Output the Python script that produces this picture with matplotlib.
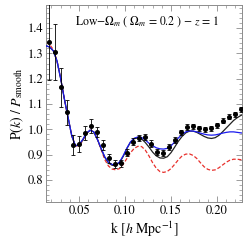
import matplotlib
matplotlib.use("Agg")
import matplotlib.pyplot as plt
from matplotlib.ticker import MultipleLocator

# measured points
k_data = [0.0178, 0.0243, 0.0308, 0.0373, 0.0438, 0.0503, 0.0568, 0.0633,
          0.0698, 0.0763, 0.0828, 0.0893, 0.0958, 0.1023, 0.1088, 0.1153,
          0.1218, 0.1283, 0.1348, 0.1413, 0.1478, 0.1543, 0.1608, 0.1673,
          0.1738, 0.1803, 0.1868, 0.1933, 0.1998, 0.2063, 0.2128, 0.2193,
          0.2258]
ratio_data = [1.345, 1.305, 1.166, 1.067, 0.938, 0.942, 0.984, 1.013,
              0.990, 0.938, 0.885, 0.863, 0.866, 0.908, 0.951, 0.966,
              0.968, 0.944, 0.911, 0.907, 0.931, 0.957, 0.988, 1.010,
              1.013, 1.004, 1.000, 1.004, 1.017, 1.034, 1.050, 1.060,
              1.079]
ratio_err = [0.150, 0.110, 0.077, 0.050, 0.040, 0.033, 0.028, 0.028,
             0.020, 0.018, 0.016, 0.015, 0.014, 0.013, 0.013, 0.012,
             0.012, 0.012, 0.012, 0.011, 0.011, 0.011, 0.011, 0.011,
             0.010, 0.010, 0.010, 0.010, 0.010, 0.010, 0.010, 0.010,
             0.010]

# model curves
k_model = [0.014, 0.018, 0.022, 0.026, 0.030, 0.034, 0.038, 0.042, 0.046,
           0.050, 0.054, 0.058, 0.062, 0.066, 0.070, 0.074, 0.078, 0.082,
           0.086, 0.090, 0.094, 0.098, 0.102, 0.106, 0.110, 0.114, 0.118,
           0.122, 0.126, 0.130, 0.134, 0.138, 0.142, 0.146, 0.150, 0.154,
           0.158, 0.162, 0.166, 0.170, 0.174, 0.178, 0.182, 0.186, 0.190,
           0.194, 0.198, 0.202, 0.206, 0.210, 0.214, 0.218, 0.222, 0.226,
           0.228]
black_model = [1.330, 1.325, 1.310, 1.270, 1.200, 1.120, 1.048, 0.975, 0.935,
               0.938, 0.958, 0.984, 0.996, 0.990, 0.960, 0.923, 0.889, 0.867,
               0.858, 0.858, 0.868, 0.893, 0.924, 0.950, 0.963, 0.966, 0.962,
               0.948, 0.930, 0.910, 0.895, 0.887, 0.886, 0.892, 0.908, 0.930,
               0.953, 0.972, 0.986, 0.993, 0.993, 0.988, 0.980, 0.972, 0.966,
               0.964, 0.967, 0.976, 0.990, 1.005, 1.020, 1.035, 1.046, 1.055,
               1.058]
blue_model = [1.330, 1.325, 1.310, 1.270, 1.200, 1.120, 1.048, 0.975, 0.935,
              0.940, 0.960, 0.985, 0.997, 0.990, 0.960, 0.925, 0.891, 0.870,
              0.861, 0.861, 0.871, 0.896, 0.926, 0.951, 0.965, 0.970, 0.968,
              0.958, 0.945, 0.935, 0.927, 0.923, 0.922, 0.925, 0.935, 0.950,
              0.966, 0.980, 0.990, 0.994, 0.993, 0.990, 0.985, 0.981, 0.978,
              0.977, 0.978, 0.981, 0.985, 0.988, 0.990, 0.990, 0.988, 0.986,
              0.985]
red_model = [1.345, 1.335, 1.315, 1.270, 1.200, 1.120, 1.045, 0.975, 0.935,
             0.935, 0.955, 0.983, 0.997, 0.990, 0.960, 0.920, 0.880, 0.855,
             0.843, 0.840, 0.845, 0.862, 0.885, 0.908, 0.925, 0.933, 0.932,
             0.918, 0.895, 0.868, 0.846, 0.833, 0.830, 0.834, 0.845, 0.862,
             0.880, 0.895, 0.902, 0.903, 0.897, 0.885, 0.868, 0.852, 0.842,
             0.838, 0.840, 0.848, 0.859, 0.870, 0.878, 0.882, 0.882, 0.880,
             0.879]

plt.rcParams["font.family"] = "STIXGeneral"
plt.rcParams["mathtext.fontset"] = "stix"

fig = plt.figure(figsize=(2.49, 2.45), dpi=100)
ax = fig.add_axes([0.185, 0.1755, 0.787, 0.804])

ax.plot(k_model, red_model, color="#e8302c", lw=0.9, ls=(0, (3, 1.6)), zorder=2)
ax.plot(k_model, black_model, color="#222222", lw=0.9, zorder=3)
ax.plot(k_model, blue_model, color="#1a1aee", lw=0.9, zorder=4)
ax.errorbar(k_data, ratio_data, yerr=ratio_err, fmt="o", color="black",
            ms=2.6, elinewidth=0.6, capsize=1.4, capthick=0.6, zorder=5)

ax.set_xlim(0.0141, 0.2272)
ax.set_ylim(0.713, 1.491)
ax.xaxis.set_major_locator(MultipleLocator(0.05))
ax.xaxis.set_minor_locator(MultipleLocator(0.01))
ax.yaxis.set_major_locator(MultipleLocator(0.1))
ax.yaxis.set_minor_locator(MultipleLocator(0.02))
ax.xaxis.set_major_formatter(plt.FuncFormatter(lambda v, p: f"{v:.2f}"))
ax.yaxis.set_major_formatter(plt.FuncFormatter(lambda v, p: f"{v:.1f}"))
ax.tick_params(which="both", direction="in", top=True, right=True,
               color="0.55", labelsize=9, pad=2)
ax.tick_params(which="major", length=4, width=0.6)
ax.tick_params(which="minor", length=2, width=0.5)
for s in ax.spines.values():
    s.set_color("0.55")
    s.set_linewidth(0.7)

ax.set_xlabel(r"k [$h$ Mpc$^{-1}$]", fontsize=10, labelpad=2)
ax.set_ylabel(r"$\mathrm{P}(k)\ /\ P_{\mathrm{smooth}}$", fontsize=10, labelpad=1)
ax.text(0.515, 0.914, r"Low$-\Omega_m$ ( $\Omega_m$ = 0.2 ) $-$ $z$ = 1",
        transform=ax.transAxes, ha="center", va="center", fontsize=8.5)

fig.savefig("out.png", dpi=100)
